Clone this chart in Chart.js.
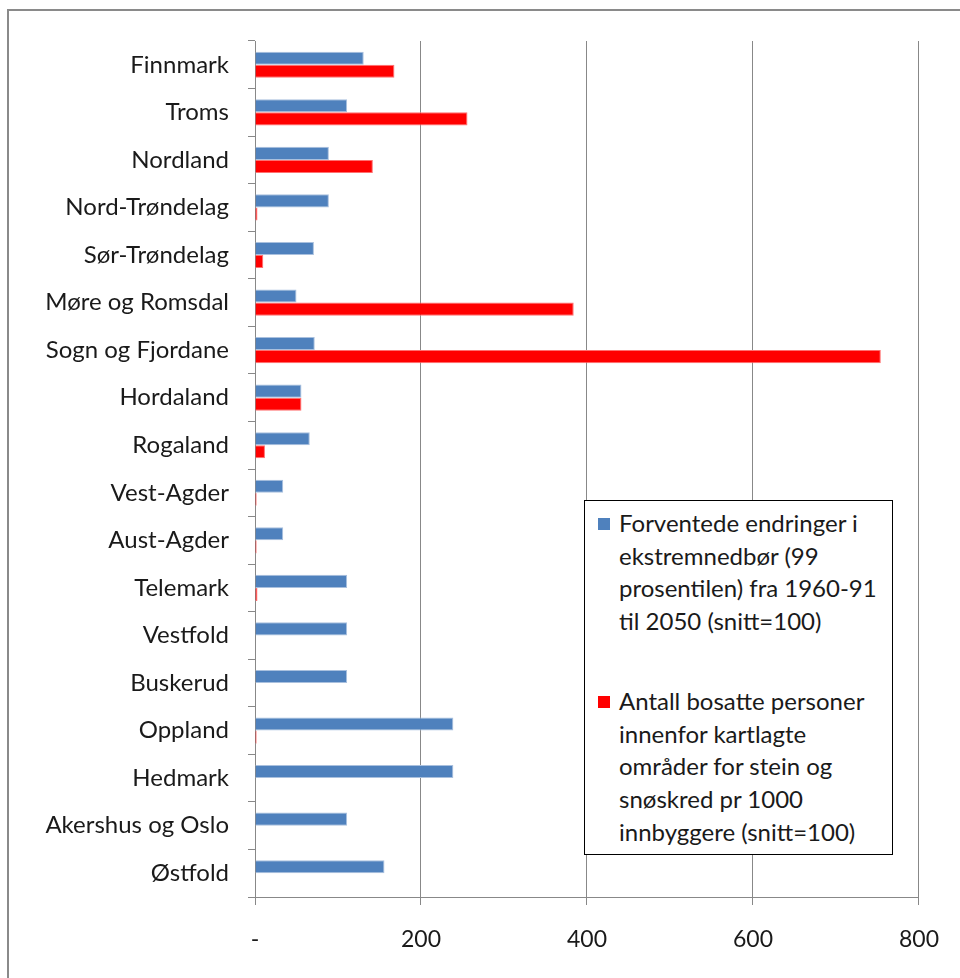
<!DOCTYPE html>
<html>
<head>
    <title>fylker</title>
    <meta charset="utf-8">
    <script src="https://cdn.jsdelivr.net/npm/chart.js"></script>
    <style>
        body { margin: 0; width: 960px; height: 978px; overflow: hidden; background: #fff; font-family: Lato, "Open Sans", sans-serif; }
        #frame { position: absolute; left: 7px; top: 9px; width: 1000px; height: 1000px; border: 2px solid #8a8a8a; }
        #wrap { position: absolute; left: 0; top: 0; }
        #legend { position: absolute; left: 584px; top: 500px; width: 307px; height: 353px; border: 1px solid #000; background: #fff; color: #1a1a1a; font-size: 24px; }
        .item { position: absolute; left: 34px; line-height: 32.7px; white-space: nowrap; }
        .sw { position: absolute; left: -21px; top: 11px; width: 12px; height: 12px; }
    </style>
</head>
<body>
    <div id="frame"></div>
    <div id="wrap"><canvas id="chart" width="960" height="978"></canvas></div>
    <div id="legend"></div>

    <script>
        const categories = ['Finnmark', 'Troms', 'Nordland', 'Nord-Trøndelag', 'Sør-Trøndelag', 'Møre og Romsdal',
            'Sogn og Fjordane', 'Hordaland', 'Rogaland', 'Vest-Agder', 'Aust-Agder', 'Telemark', 'Vestfold',
            'Buskerud', 'Oppland', 'Hedmark', 'Akershus og Oslo', 'Østfold'];
        const ekstremnedbor = [131, 111, 89, 89, 71, 50, 72, 56, 66, 34, 34, 111, 111, 111, 239, 239, 111, 156];
        const bosatte = [168, 256, 142, 3, 10, 384, 754, 56, 12, 2, 2, 3, 0, 0, 2, 0, 0, 0];
        const xTicks = [0, 200, 400, 600, 800];
        const legendLines1 = ['Forventede endringer i', 'ekstremnedbør (99', 'prosentilen) fra 1960-91', 'til 2050 (snitt=100)'];
        const legendLines2 = ['Antall bosatte personer', 'innenfor kartlagte', 'områder for stein og', 'snøskred pr 1000', 'innbyggere (snitt=100)'];

        const labelFont = { family: 'Lato, "Open Sans", sans-serif', size: 24 };
        const tickFont = { family: 'Lato, "Open Sans", sans-serif', size: 23 };

        const chart = new Chart(document.getElementById('chart'), {
            type: 'bar',
            data: {
                labels: categories,
                datasets: [{
                    label: legendLines1.join(' '),
                    data: ekstremnedbor,
                    backgroundColor: '#4f81bd',
                    borderColor: '#a9c0de',
                    borderWidth: 1
                }, {
                    label: legendLines2.join(' '),
                    data: bosatte,
                    backgroundColor: '#ff0000',
                    borderColor: '#ff7070',
                    borderWidth: 1
                }]
            },
            options: {
                indexAxis: 'y',
                responsive: false,
                animation: false,
                layout: { padding: { left: 0, top: 41, right: 39, bottom: 0 } },
                categoryPercentage: 0.55,
                barPercentage: 1,
                plugins: { legend: { display: false }, tooltip: { enabled: false } },
                scales: {
                    x: {
                        min: 0,
                        max: 800,
                        afterBuildTicks: s => { s.ticks = xTicks.map(v => ({ value: v })); },
                        afterFit: s => { s.height = 978 - 897; },
                        grid: { color: '#888', lineWidth: 1, tickLength: 8 },
                        border: { color: '#888' },
                        ticks: {
                            color: '#1a1a1a',
                            font: tickFont,
                            padding: 21,
                            maxRotation: 0,
                            callback: v => v === 0 ? '-' : v
                        }
                    },
                    y: {
                        afterFit: s => { s.width = 255; },
                        grid: { drawOnChartArea: false, color: '#888', tickLength: 7, offset: true },
                        border: { color: '#888' },
                        ticks: { color: '#1a1a1a', font: labelFont, padding: 19, autoSkip: false }
                    }
                }
            }
        });

        // legend box drawn as html text
        const legend = document.getElementById('legend');
        [legendLines1, legendLines2].forEach((lines, i) => {
            const item = document.createElement('div');
            item.className = 'item';
            item.style.top = (i === 0 ? 6 : 184) + 'px';
            item.innerHTML = '<span class="sw" style="background:' + chart.data.datasets[i].backgroundColor + '"></span>' +
                lines.join('<br>');
            legend.appendChild(item);
        });
    </script>
</body>
</html>
